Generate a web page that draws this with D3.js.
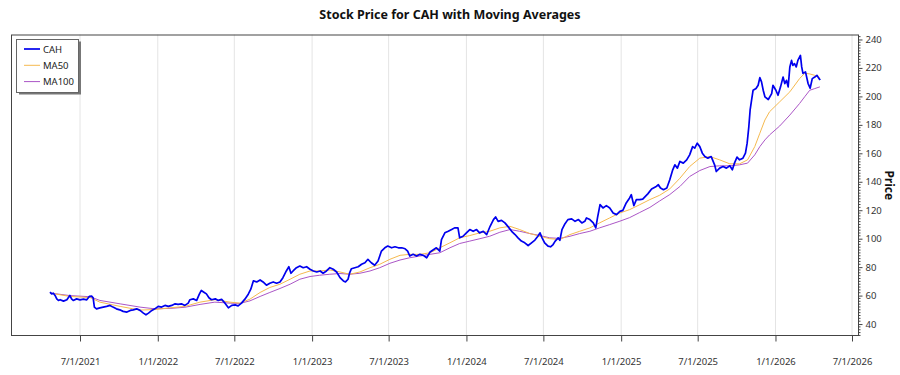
<!DOCTYPE html>
<html><head><meta charset="utf-8">
<script src="https://cdn.jsdelivr.net/npm/d3@7"></script>
<style>body{margin:0;background:#fff}svg{display:block;font-family:"Noto Sans","Open Sans",sans-serif}</style>
</head><body><svg id="c" width="900" height="375"></svg>
<script>
// ---------------- data ----------------
const chartTitle = "Stock Price for CAH with Moving Averages";
const yAxisTitle = "Price";
const seriesNames = ["CAH", "MA50", "MA100"];
const xTickLabels = ["7/1/2021","1/1/2022","7/1/2022","1/1/2023","7/1/2023","1/1/2024","7/1/2024","1/1/2025","7/1/2025","1/1/2026","7/1/2026"];
const yTickValues = [40,60,80,100,120,140,160,180,200,220,240];

const priceDates = [
"2021-04-21","2021-04-25","2021-04-29","2021-05-03","2021-05-07","2021-05-11","2021-05-15","2021-05-23","2021-05-31","2021-06-07","2021-06-11","2021-06-15","2021-06-23",
"2021-07-01","2021-07-09","2021-07-17","2021-07-23","2021-07-29","2021-08-01","2021-08-04","2021-08-09","2021-08-17","2021-08-25","2021-09-02","2021-09-10","2021-09-17","2021-09-25",
"2021-10-03","2021-10-11","2021-10-20","2021-10-28","2021-11-04","2021-11-12","2021-11-20","2021-11-28","2021-12-04","2021-12-10","2021-12-18","2021-12-25",
"2022-01-02","2022-01-10","2022-01-18","2022-01-26","2022-02-03","2022-02-11","2022-02-18","2022-02-26","2022-03-06","2022-03-14","2022-03-18","2022-03-26","2022-04-03","2022-04-09","2022-04-14","2022-04-20","2022-04-26","2022-05-02","2022-05-08","2022-05-17","2022-05-24","2022-06-01","2022-06-09","2022-06-17","2022-06-25",
"2022-07-03","2022-07-10","2022-07-18","2022-07-26","2022-08-03","2022-08-09","2022-08-15","2022-08-23","2022-08-31","2022-09-07","2022-09-15","2022-09-23","2022-10-01","2022-10-09","2022-10-17","2022-10-24","2022-11-01","2022-11-07","2022-11-12","2022-11-17","2022-11-25","2022-12-03","2022-12-11","2022-12-19","2022-12-27",
"2023-01-04","2023-01-12","2023-01-20","2023-01-27","2023-02-04","2023-02-12","2023-02-20","2023-02-28","2023-03-08","2023-03-16","2023-03-21","2023-03-27","2023-03-31","2023-04-04","2023-04-12","2023-04-20","2023-04-28","2023-05-06","2023-05-13","2023-05-21","2023-05-29","2023-06-06","2023-06-14","2023-06-22","2023-06-29",
"2023-07-08","2023-07-16","2023-07-24","2023-08-01","2023-08-09","2023-08-15","2023-08-20","2023-08-28","2023-09-05","2023-09-13","2023-09-21","2023-09-29","2023-10-07","2023-10-14","2023-10-22","2023-10-30","2023-11-03","2023-11-11","2023-11-19","2023-11-27","2023-12-04","2023-12-12","2023-12-16","2023-12-24",
"2024-01-01","2024-01-09","2024-01-17","2024-01-25","2024-02-01","2024-02-10","2024-02-18","2024-02-26","2024-03-05","2024-03-10","2024-03-16","2024-03-24","2024-04-01","2024-04-09","2024-04-17","2024-04-25","2024-05-02","2024-05-10","2024-05-18","2024-05-26","2024-06-03","2024-06-11","2024-06-18","2024-06-23","2024-06-28",
"2024-07-04","2024-07-12","2024-07-18","2024-07-24","2024-07-29","2024-08-05","2024-08-09","2024-08-14","2024-08-20","2024-08-28","2024-09-06","2024-09-14","2024-09-22","2024-09-30","2024-10-07","2024-10-11","2024-10-19","2024-10-27","2024-11-02","2024-11-06","2024-11-12","2024-11-19","2024-11-27","2024-12-05","2024-12-13","2024-12-21","2024-12-29",
"2025-01-05","2025-01-13","2025-01-21","2025-01-25","2025-01-31","2025-02-06","2025-02-14","2025-02-21","2025-03-05","2025-03-14","2025-03-25","2025-03-30","2025-04-04","2025-04-11","2025-04-19","2025-04-26","2025-05-03","2025-05-08","2025-05-14","2025-05-20","2025-05-28","2025-06-05","2025-06-12","2025-06-19","2025-06-24","2025-06-30",
"2025-07-06","2025-07-12","2025-07-18","2025-07-25","2025-08-02","2025-08-10","2025-08-14","2025-08-22","2025-08-30","2025-09-07","2025-09-15","2025-09-21","2025-09-26","2025-10-02","2025-10-08","2025-10-16","2025-10-22","2025-10-26","2025-10-30","2025-11-02","2025-11-06","2025-11-09","2025-11-16","2025-11-21","2025-11-25","2025-11-29","2025-12-03","2025-12-07","2025-12-15","2025-12-23","2025-12-26",
"2026-01-02","2026-01-07","2026-01-13","2026-01-19","2026-01-23","2026-01-27","2026-01-31","2026-02-04","2026-02-08","2026-02-11","2026-02-15","2026-02-19","2026-02-23","2026-03-01","2026-03-04","2026-03-07","2026-03-13","2026-03-19","2026-03-24","2026-03-29","2026-04-04","2026-04-09","2026-04-14","2026-04-17"
];
const priceValues = [
62.4,61.2,61.7,60.1,57.7,56.6,57.1,56.1,57.1,60.1,57.7,56.6,57.7,
57.0,57.5,57.0,59.4,59.6,58.5,51.9,50.7,51.4,51.9,52.4,53.1,51.9,50.7,
50.0,48.9,48.4,49.6,50.0,50.7,49.6,47.7,46.5,47.7,49.6,50.7,
52.4,51.9,53.1,52.4,53.1,54.2,53.8,54.2,53.1,54.7,57.1,57.7,56.6,60.8,63.6,62.4,61.2,58.5,57.1,57.7,56.6,57.3,54.7,51.4,53.1,
53.5,52.8,54.7,57.5,61.0,64.5,70.3,69.6,71.0,69.6,67.3,68.7,69.6,68.7,69.6,72.6,77.3,80.3,75.7,77.3,79.6,80.8,79.6,80.3,78.5,
77.3,76.6,77.3,75.7,77.3,79.6,78.5,76.6,72.6,70.3,69.6,71.5,76.2,78.9,79.6,80.3,82.0,83.1,85.5,83.1,81.3,84.3,91.3,93.6,94.8,
93.6,94.3,93.6,93.6,92.9,91.3,87.8,89.0,87.8,89.0,88.3,86.6,90.6,92.0,93.6,91.3,99.4,104.1,105.2,106.4,107.6,107.6,100.6,101.7,
104.1,106.4,105.2,106.4,104.1,105.2,102.9,108.7,113.4,115.3,112.2,112.9,111.1,108.3,105.2,102.9,100.6,98.3,97.1,95.2,97.1,99.0,101.7,104.1,100.6,
97.1,94.8,94.3,95.9,98.3,100.6,98.9,106.4,109.9,113.4,113.9,112.2,113.4,111.1,112.2,114.6,113.4,111.1,107.6,114.6,123.9,121.6,123.2,121.6,118.1,116.9,119.2,
119.9,125.1,128.6,130.9,123.2,127.4,127.4,127.8,131.5,134.9,136.7,137.9,135.6,134.4,135.6,141.4,148.4,151.9,149.6,154.3,153.1,155.4,158.9,164.7,163.6,167.1,
164.7,160.1,157.7,156.6,157.7,151.9,147.2,149.6,150.7,149.6,151.2,148.4,153.1,157.3,155.4,156.6,160.1,167.1,178.8,190.3,198.5,204.3,205.5,207.8,213.2,210.2,204.3,199.7,197.8,202.0,207.8,
204.3,200.8,206.7,213.6,209.0,211.3,206.7,220.7,225.3,221.8,223.0,220.7,225.3,228.8,220.7,216.2,217.2,209.2,205.7,212.5,213.6,214.8,212.5,211.5
];

const maDates = [
"2021-04-21","2021-06-07","2021-07-25","2021-08-17","2021-10-04","2021-11-20","2021-12-25","2022-01-30","2022-03-06","2022-04-11","2022-05-16","2022-06-21",
"2022-07-14","2022-08-07","2022-08-31","2022-09-23","2022-10-17","2022-11-10","2022-12-03","2022-12-27",
"2023-01-19","2023-02-12","2023-03-08","2023-03-31","2023-04-24","2023-05-18","2023-06-10","2023-07-04","2023-07-28","2023-08-20","2023-09-13","2023-10-07","2023-10-30","2023-11-23","2023-12-16",
"2024-01-09","2024-02-02","2024-02-25","2024-03-20","2024-04-13","2024-05-06","2024-05-30","2024-06-23","2024-07-16","2024-08-09","2024-09-02","2024-09-25","2024-10-19","2024-11-11","2024-12-05","2024-12-29",
"2025-01-21","2025-02-14","2025-03-10","2025-04-02","2025-04-26","2025-05-20","2025-06-12","2025-07-06","2025-07-30","2025-08-22","2025-09-15","2025-10-08",
"2025-10-27","2025-11-13","2025-11-25","2025-12-07","2025-12-18",
"2026-01-11","2026-02-04","2026-02-27","2026-03-11","2026-03-23","2026-04-04","2026-04-16"
];
const ma50Values = [
61.8,59.4,58.6,55.4,52.4,49.8,50.2,51.4,52.4,55.4,57.1,55.4,
54.7,57.5,62.2,65.7,68.0,71.5,75.0,77.3,
77.3,78.0,76.6,75.0,76.6,79.6,82.0,85.5,88.3,89.0,89.0,90.1,93.6,97.1,100.6,
102.2,104.1,105.2,107.6,108.7,106.4,103.6,101.7,100.0,99.4,102.9,105.2,107.6,111.1,114.6,118.1,
120.4,123.9,127.5,130.5,135.0,142.5,150.7,156.6,157.7,155.4,152.6,152.6,
155.4,164.7,174.1,183.4,189.2,
196.2,203.2,212.5,216.2,215.8,214.8,213.2
];
const ma100Values = [
61.8,60.0,59.2,56.6,54.2,51.9,50.7,51.0,51.8,53.8,55.4,54.7,
54.5,56.3,59.4,62.2,65.0,68.0,71.5,73.4,
74.3,75.0,75.5,75.0,75.7,77.3,79.6,82.7,85.0,86.6,87.8,89.0,90.1,93.6,96.6,
98.3,100.0,101.7,104.5,106.4,105.2,103.6,102.2,100.6,100.2,101.7,103.6,105.2,107.6,109.9,112.3,
114.8,118.4,122.0,126.5,131.0,136.7,143.7,147.9,150.7,151.2,151.2,151.9,
153.1,158.9,164.7,169.4,172.9,
179.2,186.9,195.0,199.7,204.3,205.5,206.7
];
const seriesColors = ["#0000ee", "#f5b94f", "#ab56c6"];

// ---------------- chart ----------------
const svg = d3.select("#c");
const L = 11, R = 859, T = 34.5, B = 336;
const parseISO = d3.timeParse("%Y-%m-%d");
const parseTick = d3.timeParse("%m/%d/%Y");

const x = d3.scaleTime().domain([parseTick("7/1/2021"), parseTick("7/1/2026")]).range([80, 852]);
x.domain([x.invert(L), x.invert(R)]).range([L, R]);
const y = d3.scaleLinear().domain([31.6, 243.5]).range([B, T]);

const price = priceDates.map((d, i) => ({ date: parseISO(d), v: priceValues[i] }));
const ma50 = maDates.map((d, i) => ({ date: parseISO(d), v: ma50Values[i] }));
const ma100 = maDates.map((d, i) => ({ date: parseISO(d), v: ma100Values[i] }));

const tickDates = xTickLabels.map(parseTick);

// title
svg.append("text").attr("x", 450).attr("y", 19).attr("text-anchor", "middle")
  .attr("font-size", 12.5).attr("font-weight", "bold").attr("fill", "#111").text(chartTitle);

// grid
svg.append("g").selectAll("line").data(tickDates).join("line")
  .attr("x1", d => x(d)).attr("x2", d => x(d)).attr("y1", T).attr("y2", B)
  .attr("stroke", "#e4e4e4").attr("stroke-width", 1);

// clip
svg.append("defs").append("clipPath").attr("id", "clip").append("rect")
  .attr("x", L).attr("y", T).attr("width", R - L).attr("height", B - T);

const line = d3.line().x(d => x(d.date)).y(d => y(d.v));
const plot = svg.append("g").attr("clip-path", "url(#clip)");
plot.append("path").datum(ma100).attr("d", line).attr("fill", "none").attr("stroke", seriesColors[2]).attr("stroke-width", 1);
plot.append("path").datum(ma50).attr("d", line).attr("fill", "none").attr("stroke", seriesColors[1]).attr("stroke-width", 1);
plot.append("path").datum(price).attr("d", line).attr("fill", "none").attr("stroke", seriesColors[0])
  .attr("stroke-width", 1.7).attr("stroke-linejoin", "round");

// frame
svg.append("rect").attr("x", L + 0.5).attr("y", T + 0.5).attr("width", R - L - 1).attr("height", B - T - 1)
  .attr("fill", "none").attr("stroke", "#444").attr("stroke-width", 1);

// x axis
const xAxis = d3.axisBottom(x).tickValues(tickDates).tickFormat(d3.timeFormat("%-m/%-d/%Y"))
  .tickSize(6).tickPadding(17);
const gx = svg.append("g").attr("transform", `translate(0,${B - 0.5})`).call(xAxis);
gx.select(".domain").remove();
gx.selectAll(".tick line").attr("stroke", "#444");
gx.selectAll(".tick text").attr("font-size", 9.5).attr("fill", "#333").attr("font-family", "\"Noto Sans\",sans-serif");

// y axis (right)
const yAxis = d3.axisRight(y).tickValues(yTickValues).tickSize(4).tickPadding(3);
const gy = svg.append("g").attr("transform", `translate(${R - 0.5},0)`).call(yAxis);
gy.select(".domain").remove();
gy.selectAll(".tick line").attr("stroke", "#444");
gy.selectAll(".tick text").attr("font-size", 9.5).attr("fill", "#333").attr("font-family", "\"Noto Sans\",sans-serif");
// minor ticks
svg.append("g").selectAll("line").data(d3.range(32, 243.5, 2).filter(v => v % 20 !== 0)).join("line")
  .attr("x1", R - 0.5).attr("x2", R + 1.5).attr("y1", d => y(d)).attr("y2", d => y(d))
  .attr("stroke", "#444").attr("stroke-width", 1);

// y title
svg.append("text").attr("transform", `translate(885,${(T + B) / 2}) rotate(90)`)
  .attr("text-anchor", "middle").attr("font-size", 12).attr("font-weight", "bold").attr("fill", "#111").text(yAxisTitle);

// legend
const lg = svg.append("g");
lg.append("rect").attr("x", 19).attr("y", 41.5).attr("width", 62).attr("height", 53).attr("fill", "#777");
lg.append("rect").attr("x", 16.5).attr("y", 39.5).attr("width", 62).attr("height", 53).attr("fill", "#fff").attr("stroke", "#666");
const rows = lg.selectAll("g.row").data(seriesNames).join("g").attr("class", "row")
  .attr("transform", (d, i) => `translate(0,${49 + i * 16.3})`);
rows.append("line").attr("x1", 24).attr("x2", 40).attr("y1", 0).attr("y2", 0)
  .attr("stroke", (d, i) => seriesColors[i]).attr("stroke-width", (d, i) => i === 0 ? 1.7 : 1);
rows.append("text").attr("x", 43).attr("y", 3.5).attr("font-size", 9.5).attr("fill", "#222").text(d => d);
</script></body></html>
